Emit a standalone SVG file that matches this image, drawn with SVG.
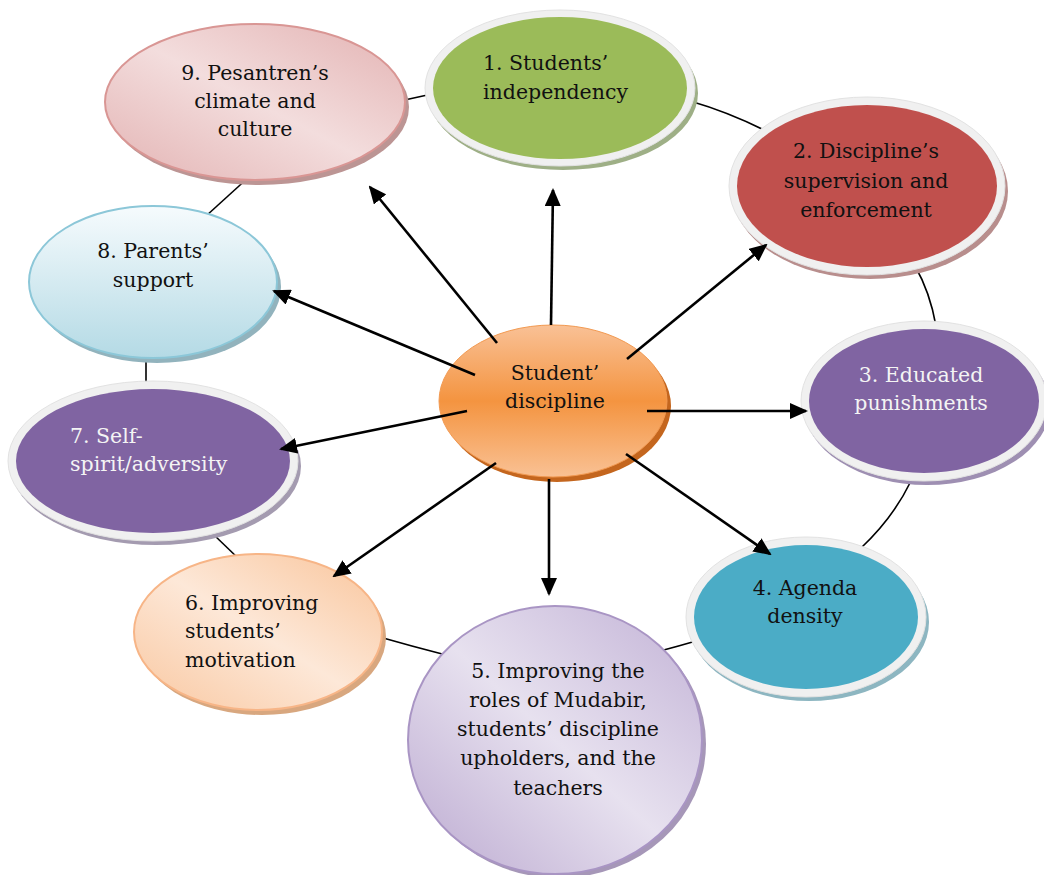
<svg xmlns="http://www.w3.org/2000/svg" width="1044" height="875" viewBox="0 0 1044 875">
<style>
.t{font-family:"DejaVu Serif","Liberation Serif",serif;font-size:20.5px;fill:#111}
.w{fill:#F4F4F4}
.m{text-anchor:middle}
.ring{stroke:#000;stroke-width:1.6;fill:none}
.arr{stroke:#000;stroke-width:2.6;fill:none;marker-end:url(#ah)}
.rim{fill:#F0F0F0;stroke:#E2E2E2;stroke-width:1}
</style>
<defs>
<marker id="ah" markerUnits="userSpaceOnUse" markerWidth="18" markerHeight="16" viewBox="0 0 18 16" refX="16" refY="8" orient="auto">
<path d="M0,0 L18,8 L0,16 z" fill="#000"/>
</marker>
<linearGradient id="g9" x1="1" y1="0" x2="0" y2="1">
<stop offset="0" stop-color="#E3B2B2"/><stop offset="0.5" stop-color="#F3DDDD"/><stop offset="1" stop-color="#E3B3B3"/>
</linearGradient>
<linearGradient id="g5" x1="1" y1="0" x2="0" y2="1">
<stop offset="0" stop-color="#C2B2D6"/><stop offset="0.5" stop-color="#E7E1EF"/><stop offset="1" stop-color="#BBA9D0"/>
</linearGradient>
<linearGradient id="g6" x1="1" y1="0" x2="0" y2="1">
<stop offset="0" stop-color="#F9C49A"/><stop offset="0.5" stop-color="#FDE8D8"/><stop offset="1" stop-color="#F9C7A0"/>
</linearGradient>
<linearGradient id="g8" x1="0" y1="0" x2="0" y2="1">
<stop offset="0" stop-color="#F6FBFD"/><stop offset="1" stop-color="#B4DAE5"/>
</linearGradient>
<linearGradient id="gc" x1="0" y1="0" x2="0" y2="1">
<stop offset="0" stop-color="#F9C196"/><stop offset="0.5" stop-color="#F49440"/><stop offset="1" stop-color="#F9C194"/>
</linearGradient>
</defs>
<rect width="1044" height="875" fill="#fff"/>
<g id="ring">
<path class="ring" d="M400,101 L432,94"/>
<path class="ring" d="M690,101 Q728,112 764,130"/>
<path class="ring" d="M915,266 Q930,292 936,326"/>
<path class="ring" d="M911,481 Q893,518 861,548"/>
<path class="ring" d="M696,641 Q679,646 660,651"/>
<path class="ring" d="M376,636 Q411,646 446,655"/>
<path class="ring" d="M213,534 L240,560"/>
<path class="ring" d="M146,354 L146,388"/>
<path class="ring" d="M206,216 L250,176"/>
</g>
<g id="n9">
<ellipse cx="259" cy="107" rx="150" ry="78" fill="#BC9594"/>
<ellipse cx="255" cy="102" rx="150" ry="78" fill="url(#g9)" stroke="#D99694" stroke-width="2"/>
<text class="t m" x="255" y="80">9. Pesantren’s</text>
<text class="t m" x="255" y="108">climate and</text>
<text class="t m" x="255" y="136">culture</text>
</g>
<g id="n1">
<ellipse cx="563" cy="93" rx="135" ry="77" fill="#9EAF86"/>
<ellipse cx="560" cy="88" rx="135" ry="78" class="rim"/>
<ellipse cx="560" cy="88" rx="127" ry="71" fill="#9BBB59"/>
<text class="t" x="483" y="70">1. Students’</text>
<text class="t" x="483" y="99">independency</text>
</g>
<g id="n2">
<ellipse cx="870" cy="191" rx="138" ry="88" fill="#B88E8D"/>
<ellipse cx="867" cy="186" rx="138" ry="89" class="rim"/>
<ellipse cx="867" cy="186" rx="130" ry="81" fill="#C0504D"/>
<text class="t m" x="866" y="158">2. Discipline’s</text>
<text class="t m" x="866" y="188">supervision and</text>
<text class="t m" x="866" y="217">enforcement</text>
</g>
<g id="n3">
<ellipse cx="927" cy="406" rx="123" ry="79" fill="#9E8FB2"/>
<ellipse cx="924" cy="401" rx="123" ry="80" class="rim"/>
<ellipse cx="924" cy="401" rx="115" ry="72" fill="#8064A2"/>
<text class="t m w" x="921" y="382">3. Educated</text>
<text class="t m w" x="921" y="410">punishments</text>
</g>
<g id="n4">
<ellipse cx="809" cy="622" rx="120" ry="79" fill="#8DB6C1"/>
<ellipse cx="806" cy="617" rx="120" ry="80" class="rim"/>
<ellipse cx="806" cy="617" rx="112" ry="72" fill="#4BACC6"/>
<text class="t m" x="805" y="595">4. Agenda</text>
<text class="t m" x="805" y="623">density</text>
</g>
<g id="n5">
<ellipse cx="559" cy="744" rx="147" ry="134" fill="#A697B8"/>
<ellipse cx="555" cy="740" rx="147" ry="134" fill="url(#g5)" stroke="#A995C4" stroke-width="2"/>
<text class="t m" x="558" y="678">5. Improving the</text>
<text class="t m" x="558" y="707">roles of Mudabir,</text>
<text class="t m" x="558" y="736">students’ discipline</text>
<text class="t m" x="558" y="765">upholders, and the</text>
<text class="t m" x="558" y="795">teachers</text>
</g>
<g id="n6">
<ellipse cx="262" cy="637" rx="124" ry="78" fill="#D8A77F"/>
<ellipse cx="258" cy="632" rx="124" ry="78" fill="url(#g6)" stroke="#F7B587" stroke-width="2"/>
<text class="t" x="185" y="610">6. Improving</text>
<text class="t" x="185" y="638">students’</text>
<text class="t" x="185" y="667">motivation</text>
</g>
<g id="n7">
<ellipse cx="156" cy="466" rx="145" ry="79" fill="#A49BB0"/>
<ellipse cx="153" cy="461" rx="145" ry="80" class="rim"/>
<ellipse cx="153" cy="461" rx="137" ry="72" fill="#8064A2"/>
<text class="t w" x="70" y="443">7. Self-</text>
<text class="t w" x="70" y="471">spirit/adversity</text>
</g>
<g id="n8">
<ellipse cx="157" cy="287" rx="124" ry="76" fill="#92B3BD"/>
<ellipse cx="153" cy="282" rx="124" ry="76" fill="url(#g8)" stroke="#8CC7D8" stroke-width="2"/>
<text class="t m" x="153" y="258">8. Parents’</text>
<text class="t m" x="153" y="287">support</text>
</g>
<g id="center">
<ellipse cx="557" cy="406" rx="114" ry="76" fill="#C4661E"/>
<ellipse cx="553" cy="401" rx="114" ry="76" fill="url(#gc)" stroke="#F29A52" stroke-width="1"/>
<text class="t m" x="555" y="380">Student’</text>
<text class="t m" x="555" y="408">discipline</text>
</g>
<g id="connectors">
<line class="arr" x1="497" y1="343" x2="370" y2="187"/>
<line class="arr" x1="551" y1="325" x2="553" y2="190"/>
<line class="arr" x1="627" y1="359" x2="766" y2="245"/>
<line class="arr" x1="647" y1="411" x2="806" y2="411"/>
<line class="arr" x1="626" y1="454" x2="770" y2="554"/>
<line class="arr" x1="549" y1="479" x2="549" y2="594"/>
<line class="arr" x1="496" y1="463" x2="334" y2="576"/>
<line class="arr" x1="467" y1="411" x2="281" y2="449"/>
<line class="arr" x1="475" y1="375" x2="274" y2="291"/>
</g>
</svg>
